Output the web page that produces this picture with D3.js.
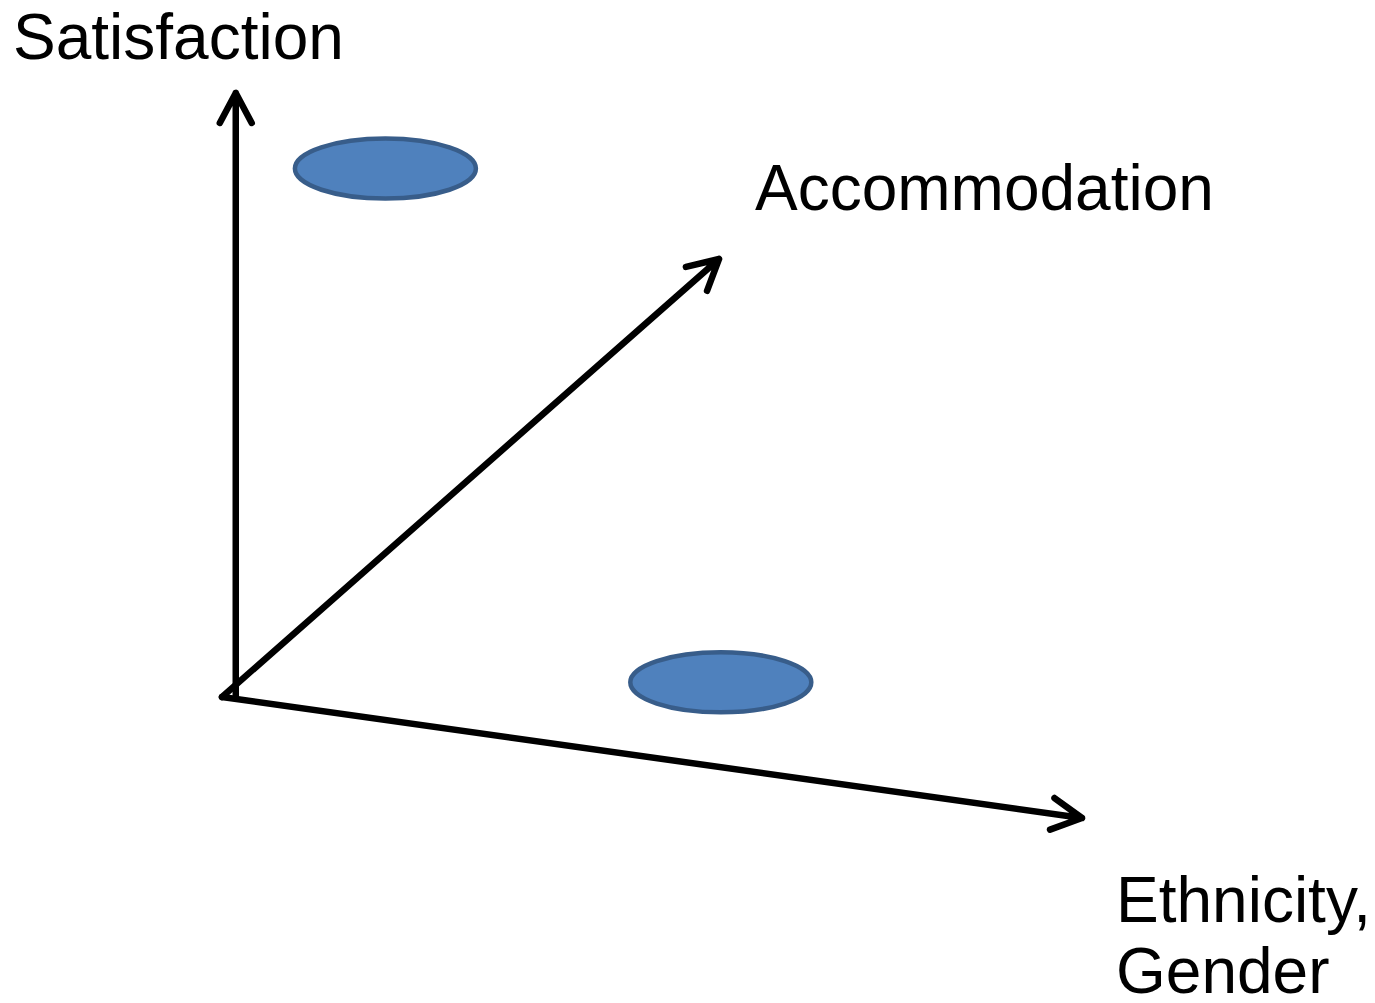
<!DOCTYPE html>
<html>
<head>
<meta charset="utf-8">
<script src="https://cdn.jsdelivr.net/npm/d3@7/dist/d3.min.js"></script>
<style>
  html, body { margin: 0; padding: 0; background: #ffffff; }
  svg { display: block; }
</style>
</head>
<body>
<script>
// Three conceptual dimensions, each measured on a 0–10 scale
const dimensions = ["Ethnicity, Gender", "Accommodation", "Satisfaction"];
const axisLabelLines = [["Ethnicity,", "Gender"], ["Accommodation"], ["Satisfaction"]];

// Axis segments: [ethnicity, accommodation, satisfaction] at start and end
const axisStarts = [[0, 0, 0], [0, 0, 0], [0.16, 0, 0.05]];
const axisEnds   = [[10, 0, 0], [0, 10, 0], [0.16, 0, 10]];

// Group positions in the three-dimensional space
const groupEthnicity     = [1.9, 5.8];
const groupAccommodation = [0, 0];
const groupSatisfaction  = [9.1, 1.4];

const W = 1375, H = 1003;
const svg = d3.select("body").append("svg").attr("width", W).attr("height", H);

// Oblique projection: each dimension gets its own linear scale along a screen direction
const origin = [222, 697];
const eX = d3.scaleLinear().domain([0, 10]).range([0, 860]);
const eY = d3.scaleLinear().domain([0, 10]).range([0, 121]);
const aX = d3.scaleLinear().domain([0, 10]).range([0, 497]);
const aY = d3.scaleLinear().domain([0, 10]).range([0, -438]);
const sY = d3.scaleLinear().domain([0, 10]).range([0, -606]);

function project(p) {
  return [origin[0] + eX(p[0]) + aX(p[1]),
          origin[1] + eY(p[0]) + aY(p[1]) + sY(p[2])];
}

// Axis arrows
const headLen = 34, headAngle = 28 * Math.PI / 180;
const axisG = svg.append("g")
  .attr("fill", "none").attr("stroke", "#000").attr("stroke-width", 6.5)
  .attr("stroke-linecap", "round").attr("stroke-linejoin", "round");

dimensions.forEach((d, i) => {
  const s = project(axisStarts[i]), e = project(axisEnds[i]);
  const ang = Math.atan2(e[1] - s[1], e[0] - s[0]);
  const b1 = [e[0] - headLen * Math.cos(ang - headAngle), e[1] - headLen * Math.sin(ang - headAngle)];
  const b2 = [e[0] - headLen * Math.cos(ang + headAngle), e[1] - headLen * Math.sin(ang + headAngle)];
  const path = d3.path();
  path.moveTo(s[0], s[1]); path.lineTo(e[0], e[1]);
  path.moveTo(b1[0], b1[1]); path.lineTo(e[0], e[1]); path.lineTo(b2[0], b2[1]);
  axisG.append("path").attr("d", path.toString());
});

// Groups drawn as flat ellipses
const groups = groupEthnicity.map((v, i) => [v, groupAccommodation[i], groupSatisfaction[i]]);
svg.append("g").selectAll("ellipse").data(groups).join("ellipse")
  .attr("cx", d => project(d)[0])
  .attr("cy", d => project(d)[1])
  .attr("rx", 90.5).attr("ry", 30)
  .attr("fill", "#4f81bd").attr("stroke", "#385d8a").attr("stroke-width", 4.5);

// Axis labels
const labelPos = [[1116, 922], [755, 210], [13, 59]];
const lab = svg.append("g")
  .attr("font-family", "'Liberation Sans', Arial, sans-serif")
  .attr("font-size", 64).attr("fill", "#000");
axisLabelLines.forEach((lines, i) => {
  const t = lab.append("text").attr("x", labelPos[i][0]).attr("y", labelPos[i][1]);
  lines.forEach((ln, j) => {
    t.append("tspan").attr("x", labelPos[i][0]).attr("dy", j === 0 ? 0 : 71).text(ln);
  });
});
</script>
</body>
</html>
